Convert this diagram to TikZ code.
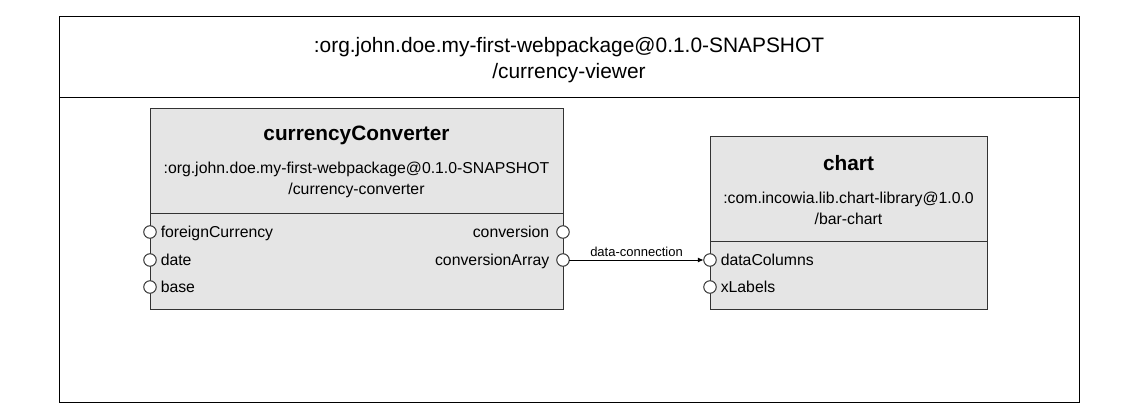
\documentclass[tikz,border=0pt]{standalone}
\usepackage{fontspec}
\setmainfont{Liberation Sans}
\usepackage{tikz}
\usetikzlibrary{positioning}
\usetikzlibrary{arrows.meta}
\definecolor{boxgray}{rgb}{0.9,0.9,0.9}
\definecolor{edgegray}{rgb}{0.2,0.2,0.2}

\begin{document}
\begin{tikzpicture}[
            x = 1pt, y = -1pt, % pixel grid
            > = {Latex[length=6pt,width=5pt]}, % arrow head style
            semithick % line style
        ]

        \tikzstyle{every node}=[inner sep = 0pt, outer sep = 0pt]
        \tikzstyle{component}=[
            draw = edgegray,
            fill = boxgray,
            line width = 1pt,
            anchor = north west
        ]
        \tikzstyle{port}=[
            draw = edgegray,
            fill = white,
            circle,
            line width = 1pt,
            minimum size = 12.5pt
        ]
        \tikzstyle{bigtext}=[font = \fontsize{20.9}{24}\selectfont]
        \tikzstyle{nametext}=[font = \bfseries\fontsize{20.8}{24}\selectfont]
        \tikzstyle{subtext}=[font = \fontsize{15.8}{21}\selectfont, align = center]
        \tikzstyle{porttext}=[font = \fontsize{15.8}{18}\selectfont, text height = 12.5pt, text depth = 2.5pt]
        \tikzstyle{linktext}=[font = \fontsize{13}{15}\selectfont]

        \useasboundingbox (0,0) rectangle (1138,418);

	% outer package
        \node[draw, line width = 1pt, minimum width = 1020pt, minimum height = 386pt, anchor = north west] (PKG) at (59,16) {};
        \draw[line width = 1pt] (59,97) -- (1079,97);
        \node[bigtext] (PKGa) at (569,47) {:org.john.doe.my-first-webpackage@0.1.0-SNAPSHOT};
        \node[bigtext] (PKGb) at (569,73) {/currency-viewer};

	% currencyConverter
        \node[component, minimum width = 413pt, minimum height = 201pt] (CC) at (150,108) {};
        \draw[edgegray, line width = 1pt] (150,213) -- (563,213);
        \node[nametext] (CCname) at (356.5,135) {currencyConverter};
        \node[subtext] (CCsub) at (356.5,180) {:org.john.doe.my-first-webpackage@0.1.0-SNAPSHOT\\/currency-converter};

        % inputs
        \node[port] (FC) at (150,232) {};
        \node[port] (DA) at (150,260) {};
        \node[port] (BA) at (150,287) {};
        \node[porttext, right = 4.5pt of FC] {foreignCurrency};
        \node[porttext, right = 4.5pt of DA] {date};
        \node[porttext, right = 4.5pt of BA] {base};

        % outputs
        \node[port] (CO) at (563,232) {};
        \node[port] (CA) at (563,260) {};
        \node[porttext, left = 7.5pt of CO] {conversion};
        \node[porttext, left = 7.5pt of CA] {conversionArray};

	% chart
        \node[component, minimum width = 277pt, minimum height = 173pt] (CH) at (710,136) {};
        \draw[edgegray, line width = 1pt] (710,241) -- (987,241);
        \node[nametext] (CHname) at (848.5,163) {chart};
        \node[subtext] (CHsub) at (848.5,208) {:com.incowia.lib.chart-library@1.0.0\\/bar-chart};

        % inputs
        \node[port] (DC) at (710,260) {};
        \node[port] (XL) at (710,287) {};
        \node[porttext, right = 4.5pt of DC] {dataColumns};
        \node[porttext, right = 4.5pt of XL] {xLabels};

	% connection
        \draw[->, line width = 1pt] (CA) -- node[linktext, above = 3pt] {data-connection} (DC);

\end{tikzpicture}
\end{document}
